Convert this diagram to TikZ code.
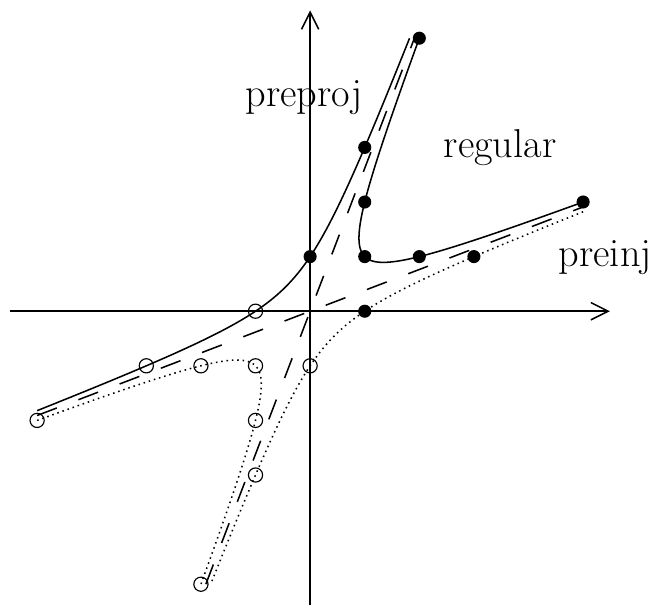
\documentclass[tikz,border=0pt]{standalone}
\usetikzlibrary{arrows.meta}
\begin{document}
\begin{tikzpicture}[x=1cm,y=1cm,line width=0.8pt,font=\fontsize{21}{25}\selectfont,
  axis/.style={-{Straight Barb[length=9pt,width=9pt]}},
  asymp/.style={dash pattern=on 11pt off 12pt},
  pdot/.style={fill=black},
  idot/.style={draw=black,line width=0.6pt},
  lab/.style={inner sep=0pt}]
  \useasboundingbox (-5.68,-5.48) rectangle (6.28,5.70);
  \draw[axis] (-5.49,0) -- (5.49,0);
  \draw[axis] (0,-5.38) -- (0,5.51);
  % asymptotes of x^2+y^2-3xy
  \draw[asymp] (-5,-1.9098) -- (5,1.9098);
  \draw[asymp] (-1.9098,-5) -- (1.9098,5);
  % q=1 and q=-1
  \draw plot[domain=-1.9407:1.9407,samples=90,smooth,variable=\t]
    ({sinh(\t)-cosh(\t)/sqrt(5)},{sinh(\t)+cosh(\t)/sqrt(5)});
  \draw plot[domain=-1.9248:1.9248,samples=90,smooth,variable=\t]
    ({cosh(\t)-sinh(\t)/sqrt(5)},{cosh(\t)+sinh(\t)/sqrt(5)});
  \draw[dotted] plot[domain=-1.9407:1.9407,samples=90,smooth,variable=\t]
    ({cosh(\t)/sqrt(5)-sinh(\t)},{-sinh(\t)-cosh(\t)/sqrt(5)});
  \draw[dotted] plot[domain=-1.9248:1.9248,samples=90,smooth,variable=\t]
    ({sinh(\t)/sqrt(5)-cosh(\t)},{-cosh(\t)-sinh(\t)/sqrt(5)});
  \foreach \x/\y in {0/1,1/0,1/1,1/2,2/1,1/3,3/1,2/5,5/2} {
    \fill[pdot] (\x,\y) circle (0.12);
    \draw[idot] (-\x,-\y) circle (0.13);
  }
  \node[lab,anchor=base] (preproj) at (-0.11,3.75) {preproj};
  \node[lab,anchor=base] (regular) at (3.48,2.82) {regular};
  \node[lab,anchor=base west] (preinj) at (4.54,0.81) {preinj};
\end{tikzpicture}
\end{document}
